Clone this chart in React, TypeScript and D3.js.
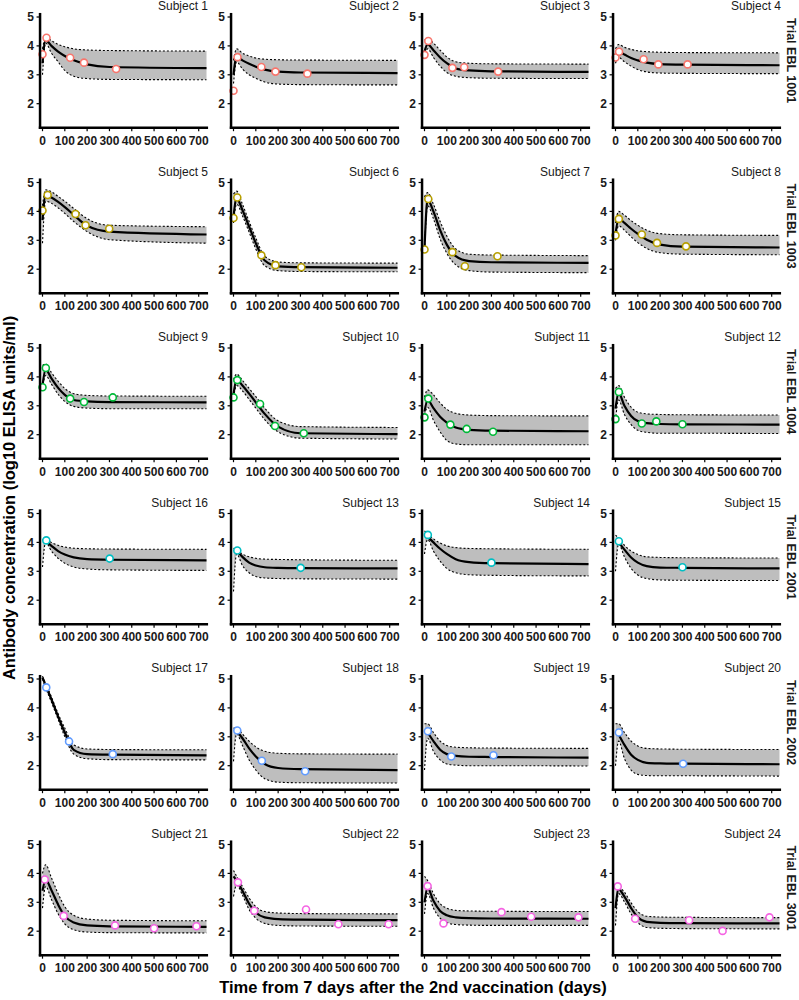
import React from 'react';
import * as d3 from 'd3';

const SUBJECTS = [1, 2, 3, 4, 5, 6, 7, 8, 9, 10, 11, 12, 16, 13, 14, 15, 17, 18, 19, 20, 21, 22, 23, 24];
const TRIALS = ['Trial EBL 1001', 'Trial EBL 1003', 'Trial EBL 1004', 'Trial EBL 2001', 'Trial EBL 2002', 'Trial EBL 3001'];
const TRIAL_COLORS = ['#F8766D', '#B79F00', '#00BA38', '#00BFC4', '#619CFF', '#F564E3'];
const X_TICKS = [0, 100, 200, 300, 400, 500, 600, 700];
const Y_TICKS = [2, 3, 4, 5];
const X_LIM = [-11, 742];
const Y_LIM = [1.17, 5.14];

const CURVE_T = [0, 14, 40, 70, 100, 140, 200, 300, 735];

const OBS_T = [
  [0, 18, 124, 186, 330], [0, 18, 125, 188, 331], [0, 17, 125, 178, 330], [0, 16, 126, 192, 323],
  [0, 23, 148, 193, 299], [0, 17, 125, 188, 304], [0, 17, 125, 181, 327], [0, 15, 118, 186, 316],
  [0, 15, 124, 186, 315], [0, 17, 119, 186, 315], [0, 17, 116, 189, 307], [0, 15, 118, 183, 300],
  [17, 301], [17, 301], [15, 300], [15, 300],
  [17, 119, 315], [17, 127, 321], [15, 120, 309], [15, 303],
  [10, 95, 325, 500, 690], [20, 93, 325, 470, 695], [14, 85, 345, 478, 690], [10, 88, 330, 480, 690],
];
const OBS_V = [
  [3.71, 4.28, 3.59, 3.42, 3.2], [2.45, 3.61, 3.27, 3.11, 3.04], [3.69, 4.17, 3.24, 3.26, 3.11], [3.6, 3.8, 3.54, 3.36, 3.36],
  [4.03, 4.57, 3.91, 3.52, 3.4], [3.77, 4.48, 2.48, 2.14, 2.07], [2.68, 4.43, 2.59, 2.1, 2.45], [3.17, 3.74, 3.2, 2.91, 2.79],
  [3.64, 4.31, 3.25, 3.13, 3.29], [3.29, 3.89, 3.06, 2.3, 2.05], [2.6, 3.25, 2.35, 2.2, 2.1], [2.54, 3.48, 2.39, 2.46, 2.36],
  [4.07, 3.44], [3.72, 3.12], [4.26, 3.3], [4.04, 3.14],
  [4.71, 2.84, 2.4], [3.22, 2.17, 1.81], [3.19, 2.32, 2.36], [3.15, 2.07],
  [3.79, 2.53, 2.2, 2.1, 2.17], [3.69, 2.71, 2.75, 2.24, 2.24], [3.56, 2.27, 2.66, 2.5, 2.48], [3.55, 2.43, 2.38, 2.01, 2.48],
];

const MID = [
  [3.4, 4.2, 4.0, 3.8, 3.65, 3.5, 3.36, 3.27, 3.23],
  [3.0, 3.62, 3.5, 3.38, 3.28, 3.18, 3.11, 3.08, 3.06],
  [3.8, 4.05, 3.85, 3.6, 3.4, 3.22, 3.15, 3.12, 3.1],
  [3.6, 3.8, 3.7, 3.58, 3.5, 3.42, 3.37, 3.35, 3.33],
  [3.7, 4.55, 4.48, 4.33, 4.15, 3.88, 3.5, 3.3, 3.2],
  [3.8, 4.45, 4.05, 3.47, 2.9, 2.3, 2.1, 2.07, 2.05],
  [2.7, 4.4, 4.0, 3.35, 2.85, 2.45, 2.28, 2.24, 2.22],
  [3.2, 3.75, 3.6, 3.4, 3.22, 3.02, 2.85, 2.78, 2.75],
  [3.7, 4.25, 3.95, 3.62, 3.38, 3.2, 3.15, 3.13, 3.12],
  [3.4, 3.9, 3.7, 3.42, 3.12, 2.72, 2.28, 2.05, 2.02],
  [2.8, 3.2, 2.92, 2.62, 2.42, 2.25, 2.17, 2.14, 2.12],
  [2.9, 3.45, 3.0, 2.65, 2.47, 2.4, 2.37, 2.36, 2.35],
  [null, 4.05, 3.88, 3.7, 3.58, 3.48, 3.42, 3.4, 3.38],
  [null, 3.72, 3.5, 3.3, 3.2, 3.14, 3.12, 3.11, 3.1],
  [null, 4.2, 4.0, 3.78, 3.6, 3.42, 3.32, 3.28, 3.25],
  [null, 4.0, 3.75, 3.48, 3.3, 3.18, 3.13, 3.12, 3.1],
  [5.05, 4.78, 4.3, 3.7, 3.15, 2.55, 2.4, 2.38, 2.36],
  [null, 3.2, 2.95, 2.6, 2.32, 2.06, 1.92, 1.88, 1.85],
  [null, 3.15, 2.85, 2.55, 2.4, 2.34, 2.31, 2.3, 2.28],
  [null, 3.08, 2.72, 2.38, 2.2, 2.1, 2.08, 2.07, 2.05],
  [3.4, 3.78, 3.42, 2.92, 2.52, 2.3, 2.2, 2.17, 2.15],
  [3.9, 3.75, 3.4, 2.95, 2.65, 2.48, 2.42, 2.4, 2.38],
  [3.0, 3.5, 3.05, 2.7, 2.55, 2.48, 2.45, 2.44, 2.43],
  [2.8, 3.45, 3.2, 2.8, 2.48, 2.32, 2.29, 2.28, 2.27],
];

const HI = [
  [3.9, 4.3, 4.18, 4.05, 3.97, 3.9, 3.86, 3.84, 3.82],
  [3.5, 3.9, 3.75, 3.65, 3.58, 3.54, 3.52, 3.51, 3.5],
  [4.2, 4.25, 4.1, 3.85, 3.62, 3.45, 3.4, 3.38, 3.37],
  [3.9, 4.05, 3.95, 3.88, 3.83, 3.8, 3.78, 3.77, 3.76],
  [4.2, 4.75, 4.68, 4.52, 4.35, 4.1, 3.75, 3.52, 3.47],
  [4.6, 4.7, 4.25, 3.65, 3.08, 2.45, 2.25, 2.22, 2.21],
  [4.5, 4.65, 4.25, 3.65, 3.15, 2.7, 2.52, 2.49, 2.47],
  [3.6, 4.0, 3.87, 3.68, 3.52, 3.35, 3.23, 3.19, 3.17],
  [4.4, 4.45, 4.15, 3.85, 3.6, 3.42, 3.36, 3.34, 3.33],
  [3.9, 4.1, 3.88, 3.6, 3.32, 2.92, 2.48, 2.28, 2.25],
  [3.3, 3.55, 3.38, 3.1, 2.88, 2.74, 2.68, 2.66, 2.65],
  [3.6, 3.7, 3.3, 2.95, 2.78, 2.72, 2.7, 2.69, 2.68],
  [4.1, 4.1, 4.0, 3.9, 3.84, 3.8, 3.78, 3.77, 3.76],
  [3.8, 3.75, 3.6, 3.5, 3.45, 3.42, 3.41, 3.4, 3.38],
  [4.4, 4.3, 4.12, 3.98, 3.88, 3.82, 3.79, 3.78, 3.76],
  [4.25, 4.15, 3.9, 3.7, 3.58, 3.5, 3.48, 3.47, 3.46],
  [5.1, 4.85, 4.38, 3.8, 3.3, 2.72, 2.58, 2.56, 2.55],
  [3.3, 3.3, 3.1, 2.85, 2.65, 2.5, 2.43, 2.41, 2.4],
  [3.45, 3.45, 3.15, 2.85, 2.7, 2.64, 2.62, 2.61, 2.6],
  [3.45, 3.45, 3.15, 2.85, 2.68, 2.6, 2.58, 2.57, 2.56],
  [4.0, 4.3, 3.85, 3.3, 2.85, 2.55, 2.42, 2.38, 2.36],
  [4.1, 3.9, 3.55, 3.15, 2.85, 2.68, 2.63, 2.61, 2.6],
  [3.9, 3.75, 3.3, 2.95, 2.8, 2.72, 2.7, 2.69, 2.68],
  [3.6, 3.55, 3.35, 2.98, 2.68, 2.52, 2.49, 2.48, 2.47],
];

const LO = [
  [3.0, 4.1, 3.75, 3.45, 3.15, 2.95, 2.87, 2.84, 2.83],
  [2.7, 3.45, 3.2, 3.0, 2.88, 2.75, 2.68, 2.66, 2.65],
  [3.6, 3.9, 3.6, 3.3, 3.08, 2.95, 2.9, 2.88, 2.87],
  [3.4, 3.6, 3.45, 3.3, 3.18, 3.1, 3.06, 3.05, 3.04],
  [2.9, 4.35, 4.28, 4.12, 3.93, 3.65, 3.3, 3.02, 2.9],
  [3.6, 4.25, 3.85, 3.28, 2.7, 2.12, 1.95, 1.92, 1.91],
  [2.7, 4.2, 3.75, 3.05, 2.55, 2.15, 1.95, 1.9, 1.88],
  [3.0, 3.5, 3.35, 3.12, 2.92, 2.72, 2.57, 2.52, 2.5],
  [3.6, 4.05, 3.75, 3.4, 3.15, 2.98, 2.92, 2.9, 2.9],
  [3.3, 3.7, 3.52, 3.22, 2.92, 2.52, 2.1, 1.88, 1.85],
  [2.7, 2.95, 2.5, 2.1, 1.8, 1.68, 1.65, 1.65, 1.65],
  [2.5, 3.2, 2.7, 2.35, 2.15, 2.08, 2.05, 2.05, 2.04],
  [3.15, 4.0, 3.7, 3.45, 3.28, 3.15, 3.08, 3.05, 3.03],
  [2.3, 3.6, 3.2, 2.95, 2.82, 2.77, 2.75, 2.74, 2.73],
  [3.6, 4.1, 3.7, 3.35, 3.1, 2.95, 2.88, 2.86, 2.84],
  [3.0, 3.95, 3.5, 3.1, 2.87, 2.75, 2.7, 2.69, 2.68],
  [5.0, 4.7, 4.2, 3.6, 3.0, 2.4, 2.24, 2.21, 2.2],
  [2.15, 3.1, 2.7, 2.2, 1.85, 1.55, 1.43, 1.41, 1.4],
  [1.85, 2.95, 2.5, 2.2, 2.06, 2.02, 2.0, 2.0, 1.99],
  [2.0, 2.85, 2.25, 1.85, 1.7, 1.66, 1.65, 1.65, 1.64],
  [2.8, 3.55, 3.1, 2.6, 2.25, 2.05, 1.97, 1.95, 1.94],
  [3.2, 3.6, 3.25, 2.75, 2.45, 2.27, 2.2, 2.18, 2.17],
  [2.6, 3.3, 2.8, 2.45, 2.3, 2.23, 2.21, 2.2, 2.2],
  [2.2, 3.3, 3.02, 2.6, 2.3, 2.13, 2.1, 2.09, 2.08],
];

const FONT = "'Liberation Sans', Arial, Helvetica, sans-serif";
const W = 799;
const H = 1000;
const NCOL = 4;
const COL_X0 = 40;
const COL_STEP = 191;
const PANEL_W = 168;
const ROW_Y5 = 17;
const ROW_STEP = 165.5;
const UNIT = 28.9;

function Panel({ idx }: { idx: number }) {
  const row = Math.floor(idx / NCOL);
  const col = idx % NCOL;
  const x0 = COL_X0 + col * COL_STEP;
  const y5 = ROW_Y5 + row * ROW_STEP;
  const x = d3.scaleLinear().domain([0, 700]).range([x0 + 2.5, x0 + 2.5 + 156.2]);
  const y = d3.scaleLinear().domain([2, 5]).range([y5 + 3 * UNIT, y5]);
  const color = TRIAL_COLORS[row];

  const pts = CURVE_T.map((t, i) => ({ t, m: MID[idx][i], lo: LO[idx][i], hi: HI[idx][i] }));
  const area = d3.area<any>().x(d => x(d.t)).y0(d => y(d.lo)).y1(d => y(d.hi)).curve(d3.curveMonotoneX);
  const lineLo = d3.line<any>().x(d => x(d.t)).y(d => y(d.lo)).curve(d3.curveMonotoneX);
  const lineHi = d3.line<any>().x(d => x(d.t)).y(d => y(d.hi)).curve(d3.curveMonotoneX);
  const lineMid = d3.line<any>().defined(d => d.m != null).x(d => x(d.t)).y(d => y(d.m)).curve(d3.curveMonotoneX);

  const xL = x(X_LIM[0]);
  const xR = x(X_LIM[1]);
  const yB = y(Y_LIM[0]);
  const yT = y(Y_LIM[1]);

  return (
    <g>
      <text x={x0 + PANEL_W} y={y5 - 7} textAnchor="end" fontSize={12} fontFamily={FONT} fill="#1a1a1a">
        {`Subject ${SUBJECTS[idx]}`}
      </text>
      <path d={area(pts) || ''} fill="#BEBEBE" stroke="none" />
      <path d={lineLo(pts) || ''} fill="none" stroke="#000" strokeWidth={1.1} strokeDasharray="2,2" />
      <path d={lineHi(pts) || ''} fill="none" stroke="#000" strokeWidth={1.1} strokeDasharray="2,2" />
      <path d={lineMid(pts) || ''} fill="none" stroke="#000" strokeWidth={2.2} />
      {OBS_T[idx].map((t, i) => (
        <circle key={i} cx={x(t)} cy={y(OBS_V[idx][i])} r={3.5} fill="#fff" stroke={color} strokeWidth={1.6} />
      ))}
      <line x1={xL} x2={xL} y1={yT} y2={yB + 1.25} stroke="#000" strokeWidth={2.5} />
      <line x1={xL - 1.25} x2={xR} y1={yB} y2={yB} stroke="#000" strokeWidth={2.5} />
      {Y_TICKS.map(v => (
        <g key={v}>
          <line x1={xL - 3.5} x2={xL} y1={y(v)} y2={y(v)} stroke="#000" strokeWidth={1.2} />
          <text x={xL - 6} y={y(v)} dy="0.36em" textAnchor="end" fontSize={12} fontWeight="bold" fontFamily={FONT} fill="#1a1a1a">{v}</text>
        </g>
      ))}
      {X_TICKS.map(t => (
        <g key={t}>
          <line x1={x(t)} x2={x(t)} y1={yB} y2={yB + 3.5} stroke="#000" strokeWidth={1.2} />
          <text x={x(t)} y={yB + 17} textAnchor="middle" fontSize={12} fontWeight="bold" fontFamily={FONT} fill="#1a1a1a">{t}</text>
        </g>
      ))}
    </g>
  );
}

export default function App() {
  return (
    <svg width={W} height={H} style={{ position: 'absolute', left: 0, top: 0, display: 'block', background: '#fff' }}>
      <rect x={0} y={0} width={W} height={H} fill="#fff" />
      {SUBJECTS.map((_, i) => <Panel key={i} idx={i} />)}
      {TRIALS.map((name, r) => (
        <text key={name} transform={`translate(786.5, ${ROW_Y5 + r * ROW_STEP + 43.5}) rotate(90)`} textAnchor="middle"
          fontSize={12.5} fontWeight="bold" fontFamily={FONT} fill="#1a1a1a">{name}</text>
      ))}
      <text transform="translate(14.5, 498) rotate(-90)" textAnchor="middle" fontSize={16.5} fontWeight="bold" fontFamily={FONT} fill="#000">
        Antibody concentration (log10 ELISA units/ml)
      </text>
      <text x={413} y={993} textAnchor="middle" fontSize={16.5} fontWeight="bold" fontFamily={FONT} fill="#000">
        Time from 7 days after the 2nd vaccination (days)
      </text>
    </svg>
  );
}
